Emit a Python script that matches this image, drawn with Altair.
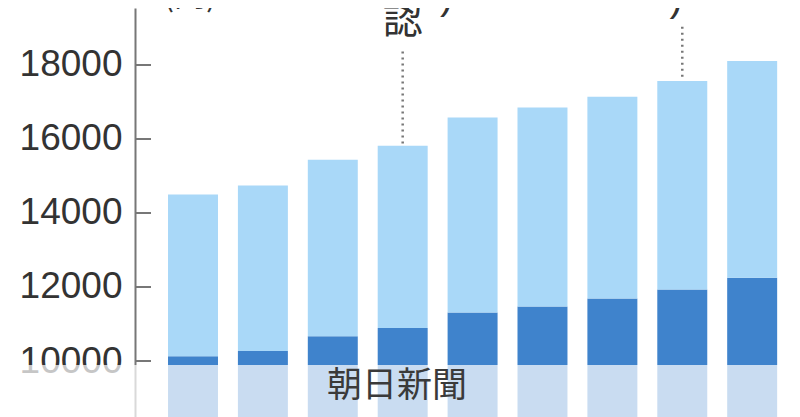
import altair as alt
import pandas as pd

# ---- data ----
categories = ["1", "2", "3", "4", "5", "6", "7", "8", "9"]
totals = [14500, 14740, 15440, 15820, 16580, 16850, 17140, 17570, 18110]
darks = [10130, 10270, 10670, 10890, 11310, 11470, 11690, 11930, 12250]
tick_values = [8000, 10000, 12000, 14000, 16000, 18000]

ann_cats = ["4", "8"]
ann_low = [15880, 17680]
ann_high = [18400, 19030]

LIGHT = "#a9d8f8"
DARK = "#3f83cc"
FLOOR = 7000

df = pd.DataFrame({"cat": categories, "total": totals, "dark": darks})
ticks_df = pd.DataFrame({"v": tick_values})
ann_df = pd.DataFrame({"cat": ann_cats, "low": ann_low, "high": ann_high})

xscale = alt.Scale(domain=categories, paddingInner=0.285, paddingOuter=0.328,
                   align=0.72, round=False)
yscale = alt.Scale(domain=[7865, 19540], nice=False, zero=False)

yaxis = alt.Axis(values=tick_values, ticks=False, grid=False, title=None, format="d",
                 domainColor="#777777", domainWidth=2,
                 labelFontSize=37, labelColor="#333333", labelFont="Liberation Sans",
                 labelPadding=13, labelOverlap=False)

base = alt.Chart(df).encode(x=alt.X("cat:N", scale=xscale, axis=None, sort=categories))

dark_bars = base.mark_bar(color=DARK, clip=True).encode(
    y=alt.Y("dark:Q", scale=yscale, axis=yaxis),
    y2=alt.datum(FLOOR),
)
light_bars = base.mark_bar(color=LIGHT, clip=True).encode(
    y=alt.Y("total:Q"),
    y2="dark:Q",
)

tick_marks = alt.Chart(ticks_df).mark_rule(color="#777777", strokeWidth=2).encode(
    y=alt.Y("v:Q"),
    x=alt.value(0),
    x2=alt.value(16),
)

dots = alt.Chart(ann_df).mark_rule(color="#777777", strokeWidth=2.5,
                                    strokeDash=[2, 4]).encode(
    x=alt.X("cat:N", sort=categories),
    y=alt.Y("low:Q"),
    y2="high:Q",
)

ann_text = alt.Chart(pd.DataFrame({"cat": ["4"], "t": ["認"]})).mark_text(
    font="Noto Sans CJK JP", fontSize=40, color="#333333", baseline="middle"
).encode(x=alt.X("cat:N", sort=categories), y=alt.value(13), text="t:N")

paren1 = alt.Chart(pd.DataFrame({"cat": ["4"], "t": [")"]})).mark_text(
    font="Liberation Sans", fontSize=40, color="#333333", baseline="middle", dx=44
).encode(x=alt.X("cat:N", sort=categories), y=alt.value(-11), text="t:N")

paren2 = alt.Chart(pd.DataFrame({"cat": ["8"], "t": [")"]})).mark_text(
    font="Liberation Sans", fontSize=40, color="#333333", baseline="middle", dx=-6
).encode(x=alt.X("cat:N", sort=categories), y=alt.value(-9), text="t:N")

unit = alt.Chart(pd.DataFrame({"t": ["(円)"]})).mark_text(
    font="Noto Sans CJK JP", fontSize=32, color="#333333", baseline="middle"
).encode(x=alt.value(55), y=alt.value(-12), text="t:N")

top_label = alt.Chart(pd.DataFrame({"t": ["20000"]})).mark_text(
    font="Liberation Sans", fontSize=37, color="#333333", baseline="middle", align="right"
).encode(x=alt.value(-14), y=alt.value(-17), text="t:N")

overlay = alt.Chart(pd.DataFrame({"a": [0]})).mark_rect(color="white", opacity=0.72).encode(
    x=alt.value(-140), x2=alt.value(700),
    y=alt.datum(9895), y2=alt.value(600),
)

watermark = alt.Chart(pd.DataFrame({"t": ["朝日新聞"]})).mark_text(
    font="Noto Sans CJK JP", fontSize=35, color="#3a3a3a", baseline="middle"
).encode(x=alt.value(262), y=alt.value(378), text="t:N")

chart = alt.layer(
    dark_bars, light_bars, tick_marks, dots, ann_text, paren1, paren2, unit,
    top_label, overlay, watermark
).properties(
    width=655, height=432,
    autosize=alt.AutoSizeParams(type="none"),
    padding={"left": 127, "top": 0, "right": 0, "bottom": 0},
).configure_view(stroke=None)

chart.save("out.html", embed_options={"renderer": "svg", "actions": False})
